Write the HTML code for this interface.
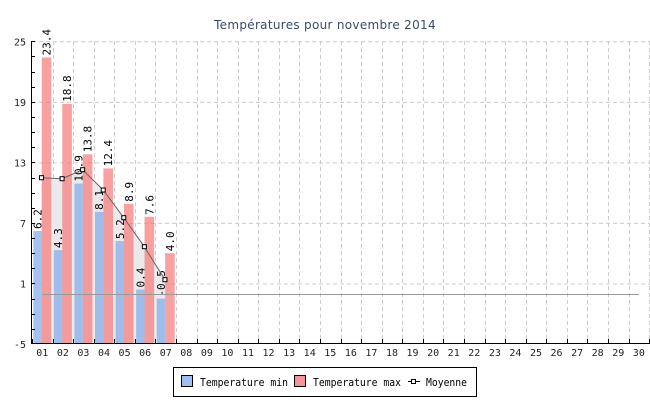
<!DOCTYPE html>
<html><head><meta charset="utf-8"><style>
body{margin:0;background:#fff}
svg text{font-family:"DejaVu Sans Mono","Liberation Mono",monospace}
</style></head><body>
<svg id="s" width="650" height="400" xmlns="http://www.w3.org/2000/svg">
<rect width="650" height="400" fill="#fff"/>
<text x="325" y="29" text-anchor="middle" font-size="12" fill="#3c4a6a" style="font-family:'DejaVu Sans','Liberation Sans',sans-serif;letter-spacing:0.3px">Températures pour novembre 2014</text>
<g id="g"></g>
<rect x="173.5" y="367.5" width="303" height="29" fill="#fff" stroke="#000"/>
<rect x="181.5" y="375.5" width="11" height="11" fill="#9ebdf0" stroke="#000"/>
<text x="200" y="386" font-size="11" textLength="88" lengthAdjust="spacingAndGlyphs">Temperature min</text>
<rect x="294.5" y="375.5" width="11" height="11" fill="#f79595" stroke="#000"/>
<text x="313" y="386" font-size="11" textLength="88" lengthAdjust="spacingAndGlyphs">Temperature max</text>
<line x1="408" y1="381.5" x2="420" y2="381.5" stroke="#000"/>
<rect x="411.5" y="379.5" width="4" height="4" fill="#fff" stroke="#000"/>
<text x="426" y="386" font-size="11" textLength="41" lengthAdjust="spacingAndGlyphs">Moyenne</text>
</svg>
<script>
var g=document.getElementById('g'),h='';
var X0=32,P=20.57;function Y(v){return 344-(v+5)*10.09;}
[25,19,13,7,1].forEach(function(v){h+='<line x1="32" x2="650" y1="'+(Y(v)+.5)+'" y2="'+(Y(v)+.5)+'" stroke="#ccc" stroke-dasharray="4,3"/>';
h+='<text x="26" y="'+(Y(v)+4)+'" text-anchor="end" font-size="10" fill="#222">'+v+'</text>';});
h+='<text x="26" y="348" text-anchor="end" font-size="10" fill="#222">-5</text>';
for(var i=1;i<=30;i++){var x=Math.round(X0+i*P)+.5;h+='<line x1="'+x+'" x2="'+x+'" y1="41" y2="344" stroke="#ccc" stroke-dasharray="4,3"/>';}
var mn=[6.2,4.3,10.9,8.1,5.2,0.4,-0.5],mx=[23.4,18.8,13.8,12.4,8.9,7.6,4.0];
var my=[177.7,178.7,169.7,190,217.7,246.7,279.7];
var pts=[];for(i=0;i<7;i++)pts.push((X0+i*P+9.5)+','+my[i]);
h+='<polygon points="'+(X0+9.5)+',344 '+pts.join(' ')+' '+(X0+6*P+9.5)+',344" fill="#eaeaec"/>';
for(i=0;i<7;i++){var s=X0+i*P;
h+='<rect x="'+(s+1.3)+'" y="'+Y(mn[i])+'" width="8.4" height="'+(344-Y(mn[i]))+'" fill="#86aeea" fill-opacity="0.75"/>';
h+='<rect x="'+(s+9.7)+'" y="'+Y(mx[i])+'" width="9.6" height="'+(344-Y(mx[i]))+'" fill="#f67878" fill-opacity="0.7"/>';
h+='<text transform="translate('+(s+9.5)+','+(Y(mn[i])-2)+') rotate(-90)" font-size="11">'+mn[i].toFixed(1)+'</text>';
h+='<text transform="translate('+(s+18.5)+','+(Y(mx[i])-2)+') rotate(-90)" font-size="11">'+mx[i].toFixed(1)+'</text>';}
h+='<line x1="42" x2="639" y1="294.5" y2="294.5" stroke="#999"/>';
h+='<polyline points="'+pts.join(' ')+'" fill="none" stroke="#666"/>';
for(i=0;i<7;i++)h+='<rect x="'+(X0+i*P+7.5)+'" y="'+(my[i]-2)+'" width="4" height="4" fill="#fff" stroke="#000"/>';
h+='<line x1="31.5" x2="31.5" y1="41" y2="344" stroke="#000"/><line x1="31" x2="650" y1="343.5" y2="343.5" stroke="#000"/>';
for(var v=25;v>-5;v-=1.5){var y=Math.round(Y(v))+.5;h+='<line x1="32" x2="35" y1="'+y+'" y2="'+y+'" stroke="#000"/>';}
for(i=0;i<=30;i++){var x=Math.round(X0+i*P)+.5;h+='<line x1="'+x+'" x2="'+x+'" y1="339" y2="344" stroke="#000"/>';}
for(i=0;i<30;i++)h+='<text x="'+(X0+i*P+10.3)+'" y="356" text-anchor="middle" font-size="10" fill="#222">'+(i<9?'0':'')+(i+1)+'</text>';
g.innerHTML=h;
</script>
</body></html>
